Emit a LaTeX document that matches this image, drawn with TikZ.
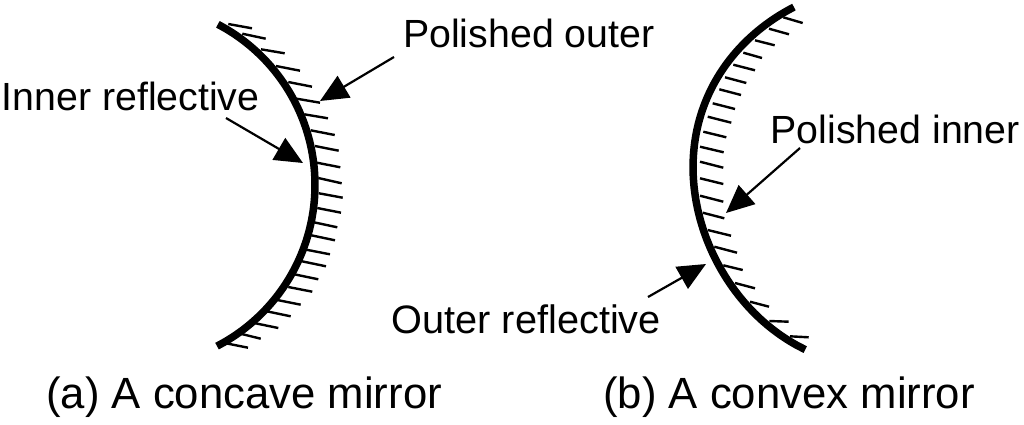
\documentclass[tikz,border=0pt]{standalone}
\usepackage{fontspec}
\setmainfont{Liberation Sans}
\usetikzlibrary{arrows.meta}
\tikzset{
  mirrorline/.style={line width=7.5pt,line cap=butt,line join=round},
  hatchline/.style={line width=2.4pt},
  pointer/.style={line width=2.2pt,-{Triangle[length=28pt,width=25pt]}},
  label/.style={inner sep=0pt,anchor=base west,font=\fontsize{39.3}{44}\selectfont},
  caption/.style={inner sep=0pt,anchor=base west,font=\fontsize{43.7}{48}\selectfont}
}
\begin{document}
\begin{tikzpicture}[x=1pt,y=-1pt]
\useasboundingbox (0,0) rectangle (1024,424);
% concave mirror
\draw[mirrorline] plot[smooth,samples=40,domain=-62.3:62.6] ({133.5+181.5*cos(\x)},{185+181.5*sin(\x)});
\foreach \a/\b/\c/\d in {228.3/24/252/28.3,242.3/33.7/265.7/38.7,261/49.3/284.7/53.3,276/66/300/70.7,288.3/82/312/86.7,296.7/98.7/320/102.7,304.3/114.3/328/118.3,310.7/130.3/334.7/135,315/146/338.7/150.7,317/162.7/340.3/167.3,318.3/178/341.7/183.3,319/193.3/342.7/197.7,317.3/208/341/212.7,314/222.3/337.3/227.3,311.3/235.3/335/240.3,306.3/249.7/330/254.3,302/261.3/326/266.3,294.3/274.3/318.3/279.3,288.3/287/312.3/291.7,277.3/300/300.7/304.7,266.7/311.3/290.7/316.3,254/323/278.3/328,241.7/334/260.7/338.7,226/343.3/248/347.7}
  \draw[hatchline] (\a,\b) -- (\c,\d);
% convex mirror
\draw[mirrorline] plot[smooth,samples=40,domain=114.6:241.6] ({885+191.5*cos(\x)-3*sin(180*(\x-178.1)/63.5)},{175.5+191.5*sin(\x)});
\foreach \a/\b/\c/\d in {783.3/17.3/802.7/23,769/28.7/789/34.3,755/40.3/774.7/45.3,743.3/52.7/762/58,733.3/64.7/755/70.3,725/77.3/746.3/83,719.3/89.3/741/95,712.7/103.3/735/109,707.7/116.7/731.3/122.7,703.3/131.7/726.3/137.3,700/146.7/723.7/152.3,700/161.7/723.3/167.7,700/178.3/723.3/184,700/195.7/723.3/201.7,702.7/212.7/724.3/218.3,707.7/230/731/235.7,714.3/246.7/737/252.7,723.3/265.3/742.7/270,735/283/755/288.3,750/301.7/769/306.7,769.3/321/788.7/321.7,790/336.3/808.7/337.3}
  \draw[hatchline] (\a,\b) -- (\c,\d);
% labels
\node[label] (po) at (403,47) {Polished outer};
\node[label] (ir) at (1.5,110) {Inner reflective};
\node[label] (pi) at (770.5,143) {Polished inner};
\node[label,font=\fontsize{39.7}{44}\selectfont] (or) at (391.5,333) {Outer reflective};
\node[caption] (ca) at (46,408) {(a) A concave mirror};
\node[caption] (cb) at (603,408) {(b) A convex mirror};
% pointers
\coordinate (potail) at (394,57);
\coordinate (potip) at (320,101);
\coordinate (irtail) at (226,118);
\coordinate (irtip) at (303,163);
\coordinate (pitail) at (800,148);
\coordinate (pitip) at (726,213);
\coordinate (ortail) at (648,297);
\coordinate (ortip) at (706,264);
\draw[pointer] (potail) -- (potip);
\draw[pointer] (irtail) -- (irtip);
\draw[pointer] (pitail) -- (pitip);
\draw[pointer] (ortail) -- (ortip);
\end{tikzpicture}
\end{document}
